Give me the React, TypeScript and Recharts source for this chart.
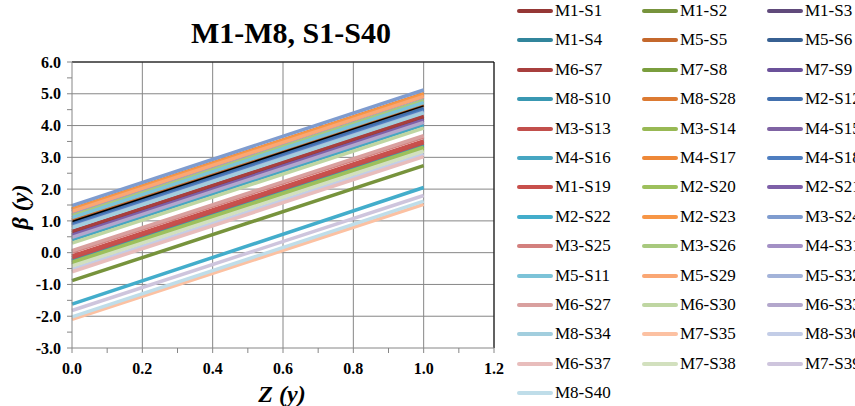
import React from 'react'
import { LineChart, Line, XAxis, YAxis, CartesianGrid, ReferenceLine } from 'recharts'

const SERIES_NAMES = [
  'M1-S1', 'M1-S2', 'M1-S3', 'M1-S4', 'M5-S5', 'M5-S6', 'M6-S7', 'M7-S8', 'M7-S9', 'M8-S10',
  'M8-S28', 'M2-S12', 'M3-S13', 'M3-S14', 'M4-S15', 'M4-S16', 'M4-S17', 'M4-S18', 'M1-S19', 'M2-S20',
  'M2-S21', 'M2-S22', 'M2-S23', 'M3-S24', 'M3-S25', 'M3-S26', 'M4-S31', 'M5-S11', 'M5-S29', 'M5-S32',
  'M6-S27', 'M6-S30', 'M6-S33', 'M8-S34', 'M7-S35', 'M8-S36', 'M6-S37', 'M7-S38', 'M7-S39', 'M8-S40',
]

const SERIES_COLORS = [
  '#953735', '#77933C', '#604A7B', '#31859C', '#C4682C', '#376092', '#A83F3D', '#7A9E3E', '#6B519A', '#3998B2',
  '#DC7A32', '#4270AE', '#C24F4C', '#98B954', '#7F63A3', '#46A6C2', '#EE8838', '#4E7EC0', '#C8504C', '#9DC05C',
  '#7E60A8', '#43ADCB', '#F79646', '#7F9CCF', '#D3807E', '#A8C97E', '#A390C5', '#7CC3D8', '#FAA774', '#A3B3D9',
  '#D9A09F', '#BFD6A2', '#B3A7CC', '#A2CEDE', '#FCC1A2', '#C3CDE7', '#E8BDBC', '#D2E0BE', '#CEC5DD', '#BFDDE9',
]

// beta at Z = 0
const START_VALUES = [
  0.62, -0.88, 0.55, -0.26, 1.02, 0.88, 0.68, -0.33, 0.5, -0.22,
  1.34, 0.92, -0.16, -0.38, 0.45, 0.4, 1.38, 0.85, -0.1, -0.3,
  0.55, -1.62, 1.36, 1.48, 0.02, 1.18, 1.28, 1.1, 1.3, 0.8,
  0.06, 0.3, 0.48, 0.78, -2.1, -0.52, -0.6, -0.42, -1.82, -2.02,
]

// beta at Z = 1
const END_VALUES = [
  4.24, 2.74, 4.17, 3.36, 4.64, 4.5, 4.3, 3.29, 4.12, 3.4,
  4.96, 4.54, 3.46, 3.24, 4.07, 4.02, 5.0, 4.47, 3.52, 3.32,
  4.17, 2.05, 4.98, 5.12, 3.64, 4.8, 4.9, 4.72, 4.92, 4.42,
  3.68, 3.92, 4.1, 4.4, 1.52, 3.1, 3.02, 3.2, 1.8, 1.62,
]

const MEAN_START = 0.98
const MEAN_END = 4.62

const Z_POINTS = [0, 1]
const X_TICKS = [0, 0.1, 0.2, 0.3, 0.4, 0.5, 0.6, 0.7, 0.8, 0.9, 1.0, 1.1, 1.2]
const X_GRID = [0.2, 0.4, 0.6, 0.8, 1.0, 1.2]
const Y_TICKS = [-3, -2.5, -2, -1.5, -1, -0.5, 0, 0.5, 1, 1.5, 2, 2.5, 3, 3.5, 4, 4.5, 5, 5.5, 6]
const Y_GRID = [-2, -1, 0, 1, 2, 3, 4, 5, 6]

const FONT = '"Liberation Serif", "Times New Roman", serif'
const AXIS_GRAY = '#868686'

const data = Z_POINTS.map((z, i) => {
  const row: Record<string, number> = { z, mean: i === 0 ? MEAN_START : MEAN_END }
  SERIES_NAMES.forEach((name, s) => {
    row[name] = i === 0 ? START_VALUES[s] : END_VALUES[s]
  })
  return row
})

function XTick({ x, y, payload }: any) {
  const v = payload.value
  if (Math.round(v * 10) % 2 !== 0) return <g />
  return (
    <text x={x} y={y} dy="0.71em" textAnchor="middle" fontFamily={FONT} fontWeight="bold" fontSize={16} fill="#000">
      {v.toFixed(1)}
    </text>
  )
}

function YTick({ x, y, payload }: any) {
  const v = payload.value
  if (!Number.isInteger(v)) return <g />
  return (
    <text x={x} y={y} dy="0.355em" textAnchor="end" fontFamily={FONT} fontWeight="bold" fontSize={16} fill="#000">
      {v.toFixed(1)}
    </text>
  )
}

export default function App() {
  return (
    <div style={{ position: 'absolute', left: 0, top: 0, width: 855, height: 406, overflow: 'hidden', background: '#fff' }}>
      <LineChart width={855} height={406} data={data} margin={{ top: 62, right: 361, bottom: 28, left: 10 }}>
        <CartesianGrid stroke={AXIS_GRAY} strokeWidth={1} horizontalValues={Y_GRID} verticalValues={X_GRID} />
        <XAxis
          type="number"
          dataKey="z"
          domain={[0, 1.2]}
          ticks={X_TICKS}
          interval={0}
          height={30}
          tickSize={5}
          tickMargin={10}
          stroke={AXIS_GRAY}
          tick={<XTick />}
        />
        <YAxis
          type="number"
          domain={[-3, 6]}
          ticks={Y_TICKS}
          interval={0}
          width={62}
          tickSize={5}
          tickMargin={6}
          stroke={AXIS_GRAY}
          tick={<YTick />}
        />
        <ReferenceLine y={6} stroke="#000" strokeWidth={1} />
        <ReferenceLine x={1.2} stroke="#000" strokeWidth={1} />
        {SERIES_NAMES.map((name, s) => (
          <Line
            key={name}
            type="linear"
            dataKey={name}
            stroke={SERIES_COLORS[s]}
            strokeWidth={3.5}
            dot={false}
            isAnimationActive={false}
          />
        ))}
        <Line type="linear" dataKey="mean" stroke="#000" strokeWidth={1.5} dot={false} isAnimationActive={false} legendType="none" />
      </LineChart>

      <svg width={855} height={406} style={{ position: 'absolute', left: 0, top: 0, pointerEvents: 'none' }}>
        <text x={291} y={43} textAnchor="middle" fontFamily={FONT} fontWeight="bold" fontSize={30}>
          M1-M8, S1-S40
        </text>
        <text x={282} y={402} textAnchor="middle" fontFamily={FONT} fontWeight="bold" fontStyle="italic" fontSize={24}>
          Z (y)
        </text>
        <text
          x={0}
          y={0}
          transform="translate(28 207) rotate(-90)"
          textAnchor="middle"
          fontFamily={FONT}
          fontWeight="bold"
          fontStyle="italic"
          fontSize={24}
        >
          β (y)
        </text>
      </svg>

      {/* Legend */}
      {SERIES_NAMES.map((name, s) => {
        const col = s % 3
        const row = Math.floor(s / 3)
        const left = 517 + col * 125
        const top = 11 + row * 29.4
        return (
          <div
            key={name}
            style={{ position: 'absolute', left, top: top - 12, height: 24, display: 'flex', alignItems: 'center', whiteSpace: 'nowrap' }}
          >
            <span style={{ display: 'inline-block', width: 36, height: 4, borderRadius: 2, background: SERIES_COLORS[s] }} />
            <span style={{ marginLeft: 2, fontFamily: FONT, fontSize: 17, color: '#000' }}>{name}</span>
          </div>
        )
      })}
    </div>
  )
}
